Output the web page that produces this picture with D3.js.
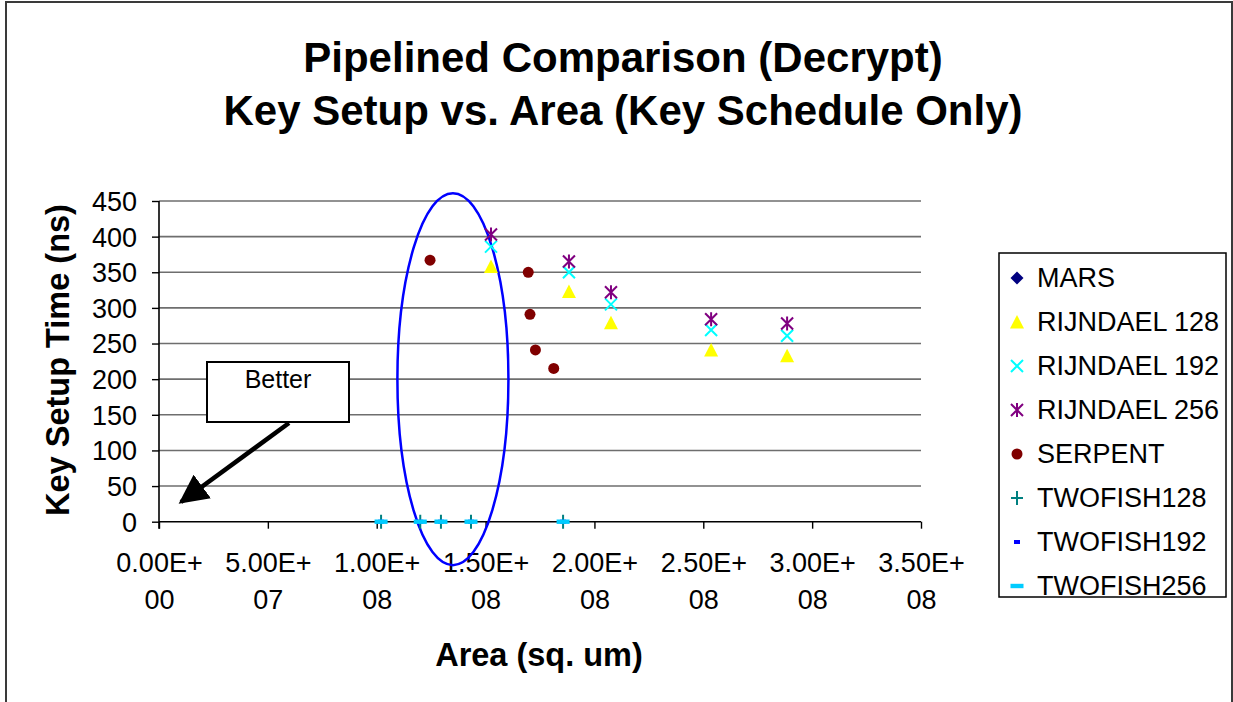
<!DOCTYPE html>
<html>
<head>
<meta charset="utf-8">
<script src="https://cdn.jsdelivr.net/npm/d3@7"></script>
<style>
  body { margin: 0; background: #fff; }
  svg text { font-family: "Liberation Sans", Arial, sans-serif; fill: #000; }
</style>
</head>
<body>
<svg id="chart" width="1233" height="702"></svg>
<script>
// chart data
var seriesNames = ['MARS', 'RIJNDAEL 128', 'RIJNDAEL 192', 'RIJNDAEL 256', 'SERPENT', 'TWOFISH128', 'TWOFISH192', 'TWOFISH256'];

var marsArea = [];
var marsTime = [];

var rijndaelArea = [1.525e8, 1.883e8, 2.076e8, 2.536e8, 2.885e8];
var rijndael128Time = [358, 323, 279, 241, 233];
var rijndael192Time = [386, 350, 305, 269, 261];
var rijndael256Time = [403, 365, 322, 284, 278];

var serpentArea = [1.245e8, 1.696e8, 1.704e8, 1.729e8, 1.813e8];
var serpentTime = [367, 350, 291, 241, 215];

var twofishArea = [1.02e8, 1.20e8, 1.295e8, 1.433e8, 1.856e8];
var twofishTime = [0, 0, 0, 0, 0];

var xTicks = [0, 5e7, 1e8, 1.5e8, 2e8, 2.5e8, 3e8, 3.5e8];
var yTicks = [0, 50, 100, 150, 200, 250, 300, 350, 400, 450];

var titleLines = ['Pipelined Comparison (Decrypt)', 'Key Setup vs. Area (Key Schedule Only)'];

// annotation: ellipse (data units) and "Better" arrow
var ellipseCenter = [1.35e8, 200];
var ellipseRadius = [0.255e8, 261];

var zip = function(xs, ys) {
    return xs.map(function(x, i) { return {x: x, y: ys[i]}; });
};

var series = [
    {name: seriesNames[0], shape: 'diamond', color: '#000080', points: zip(marsArea, marsTime)},
    {name: seriesNames[1], shape: 'triangle', color: '#FFFF00', points: zip(rijndaelArea, rijndael128Time)},
    {name: seriesNames[2], shape: 'cross', color: '#00FFFF', points: zip(rijndaelArea, rijndael192Time)},
    {name: seriesNames[3], shape: 'star', color: '#800080', points: zip(rijndaelArea, rijndael256Time)},
    {name: seriesNames[4], shape: 'circle', color: '#800000', points: zip(serpentArea, serpentTime)},
    {name: seriesNames[5], shape: 'plus', color: '#008080', points: zip(twofishArea, twofishTime)},
    {name: seriesNames[6], shape: 'dashSmall', color: '#0000FF', points: zip(twofishArea, twofishTime)},
    {name: seriesNames[7], shape: 'dash', color: '#00CCFF', points: zip(twofishArea, twofishTime)}
];

var svg = d3.select('#chart');

var plot = {left: 159, right: 921, top: 201, bottom: 521.7};

var x = d3.scaleLinear().domain([0, 3.5e8]).range([plot.left, plot.right]);
var y = d3.scaleLinear().domain([0, 450]).range([plot.bottom, plot.top]);

// outer frame
svg.append('rect')
    .attr('x', 6).attr('y', 2).attr('width', 1226).attr('height', 720)
    .attr('fill', 'none').attr('stroke', '#3a3a3a').attr('stroke-width', 2);

// title
svg.append('text')
    .attr('text-anchor', 'middle')
    .attr('font-weight', 'bold')
    .attr('font-size', 42)
    .selectAll('tspan')
    .data(titleLines)
    .enter()
    .append('tspan')
    .attr('x', 623)
    .attr('y', function(d, i) { return 72 + i * 53; })
    .text(function(d) { return d; });

// gridlines
svg.append('g')
    .selectAll('line')
    .data(yTicks.slice(1))
    .enter()
    .append('line')
    .attr('x1', plot.left).attr('x2', plot.right)
    .attr('y1', function(d) { return y(d); })
    .attr('y2', function(d) { return y(d); })
    .attr('stroke', '#6e6e6e').attr('stroke-width', 1.6);

// y axis
var fmtExp = function(v) {
    if (v === 0) return ['0.00E+', '00'];
    var e = Math.floor(Math.log10(v));
    var m = v / Math.pow(10, e);
    return [m.toFixed(2) + 'E+', (e < 10 ? '0' : '') + e];
};

var yAxis = svg.append('g')
    .attr('transform', 'translate(' + plot.left + ',0)')
    .call(d3.axisLeft(y).tickValues(yTicks).tickSize(7).tickPadding(15));
yAxis.select('.domain').attr('stroke', '#000').attr('stroke-width', 1.6)
    .attr('d', 'M0,' + plot.top + 'V' + (plot.bottom + 7));
yAxis.selectAll('.tick line').attr('stroke', '#000').attr('stroke-width', 1.4);
yAxis.selectAll('.tick text')
    .attr('font-size', 27)
    .attr('font-family', '"Liberation Sans", Arial, sans-serif')
    .attr('dy', '0.35em');

// x axis
var xAxis = svg.append('g')
    .attr('transform', 'translate(0,' + plot.bottom + ')')
    .call(d3.axisBottom(x).tickValues(xTicks).tickSize(7).tickFormat(''));
xAxis.select('.domain').attr('stroke', '#000').attr('stroke-width', 1.6)
    .attr('d', 'M' + plot.left + ',0H' + plot.right);
xAxis.selectAll('.tick line').attr('stroke', '#000').attr('stroke-width', 1.4);
xAxis.selectAll('.tick')
    .append('text')
    .attr('text-anchor', 'middle')
    .attr('font-size', 27)
    .selectAll('tspan')
    .data(function(d) { return fmtExp(d); })
    .enter()
    .append('tspan')
    .attr('x', 0)
    .attr('y', function(d, i) { return 50 + i * 37; })
    .text(function(d) { return d; });

// axis titles
svg.append('text')
    .attr('text-anchor', 'middle')
    .attr('font-weight', 'bold')
    .attr('font-size', 32.5)
    .attr('x', 539).attr('y', 666)
    .text('Area (sq. um)');

svg.append('text')
    .attr('text-anchor', 'middle')
    .attr('font-weight', 'bold')
    .attr('font-size', 32.5)
    .attr('transform', 'translate(69,360) rotate(-90)')
    .text('Key Setup Time (ns)');

// ellipse annotation
svg.append('ellipse')
    .attr('cx', x(ellipseCenter[0]))
    .attr('cy', y(ellipseCenter[1]))
    .attr('rx', x(ellipseRadius[0]) - x(0))
    .attr('ry', y(0) - y(ellipseRadius[1]))
    .attr('fill', 'none')
    .attr('stroke', '#0000FF')
    .attr('stroke-width', 2.5);

// markers
var drawMarker = function(g, shape, color) {
    if (shape === 'diamond') {
        g.append('path').attr('d', 'M0,-6.5L6.5,0L0,6.5L-6.5,0Z').attr('fill', color);
    } else if (shape === 'triangle') {
        g.append('path').attr('d', 'M0,-7L7,6.5L-7,6.5Z').attr('fill', color);
    } else if (shape === 'cross') {
        g.append('path').attr('d', 'M-6,-6L6,6M-6,6L6,-6').attr('stroke', color).attr('stroke-width', 2);
    } else if (shape === 'star') {
        g.append('path').attr('d', 'M-6,-6L6,6M-6,6L6,-6M0,-7V7').attr('stroke', color).attr('stroke-width', 2);
    } else if (shape === 'circle') {
        g.append('circle').attr('r', 5.5).attr('fill', color);
    } else if (shape === 'plus') {
        g.append('path').attr('d', 'M-6,0H6M0,-7V7').attr('stroke', color).attr('stroke-width', 2);
    } else if (shape === 'dashSmall') {
        g.append('rect').attr('x', -3).attr('y', -2).attr('width', 6).attr('height', 4).attr('fill', color);
    } else if (shape === 'dash') {
        g.append('rect').attr('x', -6.5).attr('y', -2.2).attr('width', 13).attr('height', 4.4).attr('fill', color);
    }
};

// series drawn in order, later series on top
series.forEach(function(s) {
    svg.append('g')
        .selectAll('g')
        .data(s.points)
        .enter()
        .append('g')
        .attr('transform', function(d) { return 'translate(' + x(d.x) + ',' + y(d.y) + ')'; })
        .each(function() { drawMarker(d3.select(this), s.shape, s.color); });
});

// "Better" box and arrow
svg.append('rect')
    .attr('x', 207).attr('y', 362).attr('width', 142).attr('height', 60)
    .attr('fill', '#fff').attr('stroke', '#000').attr('stroke-width', 2);
svg.append('text')
    .attr('x', 278).attr('y', 388)
    .attr('text-anchor', 'middle')
    .attr('font-size', 25)
    .text('Better');

svg.append('defs').append('marker')
    .attr('id', 'arrowHead')
    .attr('viewBox', '0 0 10 10')
    .attr('refX', 9).attr('refY', 5)
    .attr('markerWidth', 6.5).attr('markerHeight', 6.5)
    .attr('markerUnits', 'strokeWidth')
    .attr('orient', 'auto')
    .append('path').attr('d', 'M0,0L10,5L0,10Z').attr('fill', '#000');
svg.append('line')
    .attr('x1', 289).attr('y1', 423)
    .attr('x2', 181).attr('y2', 502)
    .attr('stroke', '#000').attr('stroke-width', 4.5)
    .attr('marker-end', 'url(#arrowHead)');

// legend
var legend = svg.append('g');
legend.append('rect')
    .attr('x', 999).attr('y', 253).attr('width', 227).attr('height', 344)
    .attr('fill', '#fff').attr('stroke', '#000').attr('stroke-width', 1.5);
var items = legend.selectAll('g.item')
    .data(series)
    .enter()
    .append('g')
    .attr('class', 'item')
    .attr('transform', function(d, i) { return 'translate(1017,' + (278 + i * 44) + ')'; });
items.each(function(d) { drawMarker(d3.select(this), d.shape, d.color); });
items.append('text')
    .attr('x', 20).attr('dy', '0.35em')
    .attr('font-size', 27)
    .text(function(d) { return d.name; });
</script>
</body>
</html>
